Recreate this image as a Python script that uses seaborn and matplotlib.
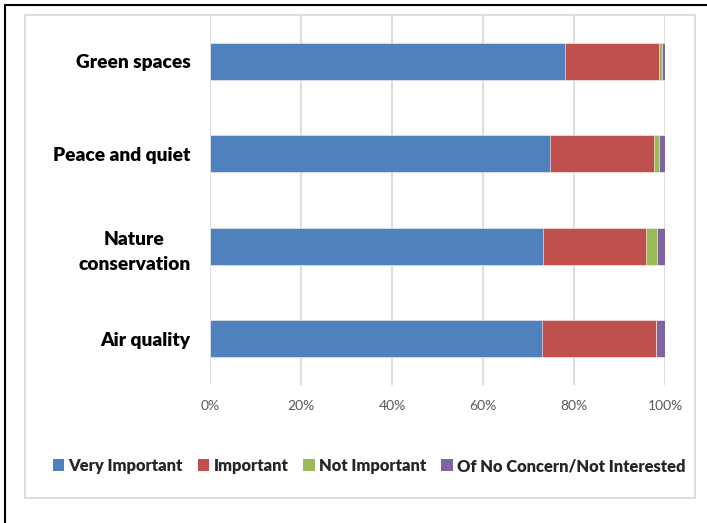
import matplotlib
matplotlib.use("Agg")
import matplotlib.pyplot as plt
import seaborn as sns
import pandas as pd
import numpy as np
from matplotlib.patches import Rectangle, Patch
from matplotlib.lines import Line2D

categories = ["Green spaces", "Peace and quiet", "Nature\nconservation", "Air quality"]
very_important = [78.1, 74.7, 73.1, 73.0]
important = [20.6, 22.9, 22.7, 25.1]
not_important = [0.6, 1.1, 2.4, 0.0]
no_concern = [0.7, 1.3, 1.8, 1.9]

series_names = ["Very Important", "Important", "Not Important", "Of No Concern/Not Interested"]
colors = ["#4F81BD", "#C0504D", "#9BBB59", "#8064A2"]

sns.set_theme(style="white")
plt.rcParams['font.family'] = ['Lato', 'DejaVu Sans']

W, H = 707, 523
fig = plt.figure(figsize=(W / 100, H / 100), dpi=100)
ax = fig.add_axes([210 / W, 1 - 385 / H, (665 - 210) / W, (385 - 15) / H])

series = [very_important, important, not_important, no_concern]
cum = np.cumsum(np.array(series), axis=0)

# draw cumulative totals from largest to smallest so segments stack
for i in range(len(series) - 1, -1, -1):
    df = pd.DataFrame({"cat": categories, "val": cum[i]})
    sns.barplot(data=df, x="val", y="cat", orient="h", color=colors[i],
                width=0.4, ax=ax, saturation=1, edgecolor="white",
                linewidth=0.4, zorder=3)

ax.set_xlim(0, 100)
ax.set_ylim(3.5, -0.5)
ax.set_xticks([0, 20, 40, 60, 80, 100])
ax.set_xticklabels(["0%", "20%", "40%", "60%", "80%", "100%"])
ax.xaxis.grid(True, color="#D9D9D9", linewidth=1.3, zorder=0)
ax.set_axisbelow(True)
for s in ax.spines.values():
    s.set_visible(False)
ax.set_xlabel("")
ax.set_ylabel("")
ax.tick_params(axis="x", length=0, pad=11, labelsize=10, labelcolor="#595959")
ax.tick_params(axis="y", length=0, pad=14, labelsize=13.8)
for lbl in ax.get_yticklabels():
    lbl.set_fontweight("heavy")
    lbl.set_multialignment("center")
    lbl.set_linespacing(1.6)
    lbl.set_color("black")

# legend
handles = [Patch(facecolor=c, edgecolor="none") for c in colors]
leg = fig.legend(handles, series_names, loc="center", ncol=4,
                 bbox_to_anchor=(369 / W, 1 - 466 / H), frameon=False,
                 handlelength=0.7, handleheight=0.7, handletextpad=0.25,
                 columnspacing=0.9, prop={"weight": "heavy", "size": 11.9})

# frames
fig.add_artist(Rectangle((25 / W, 1 - 498 / H), (695 - 25) / W, (498 - 15) / H,
                         transform=fig.transFigure, fill=False,
                         edgecolor="#D9D9D9", linewidth=1.3))
fig.add_artist(Line2D([5 / W, 1], [1 - 5 / H, 1 - 5 / H], transform=fig.transFigure,
                      color="black", linewidth=1.5))
fig.add_artist(Line2D([5 / W, 5 / W], [0, 1 - 5 / H], transform=fig.transFigure,
                      color="black", linewidth=1.5))

fig.savefig("out.png", dpi=100, facecolor="white")
